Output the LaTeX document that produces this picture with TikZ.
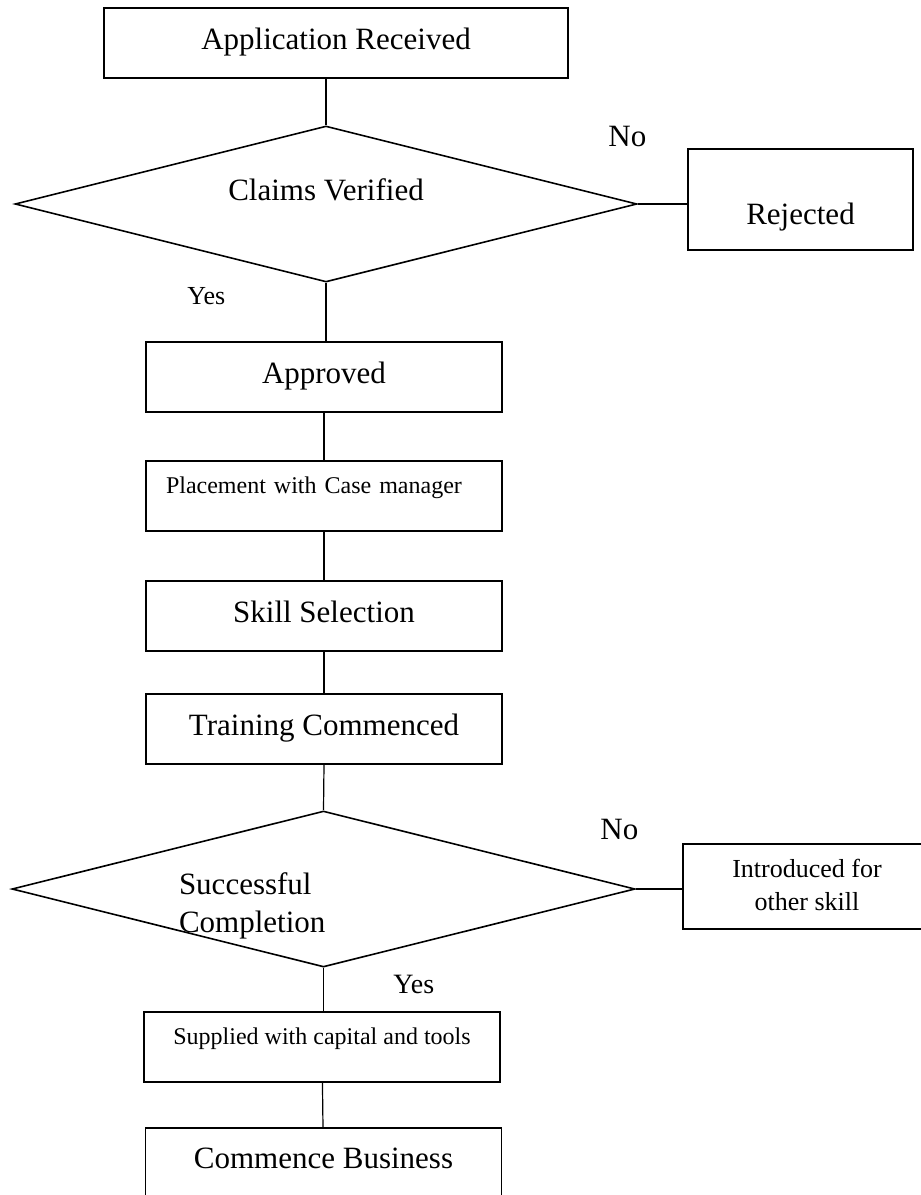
\documentclass[tikz,border=0pt]{standalone}
\usepackage{fontspec}
\setmainfont{Liberation Serif}
\usetikzlibrary{shapes.geometric}

\newcommand{\fbig}{\fontsize{15.5}{19}\selectfont}
\newcommand{\fmid}{\fontsize{13}{16.5}\selectfont}
\newcommand{\fyes}{\fontsize{14}{17}\selectfont}
\newcommand{\fsm}{\fontsize{12}{14.5}\selectfont}

\begin{document}
\begin{tikzpicture}[x=0.5pt, y=-0.5pt,
    box/.style={draw, line width=0.8pt, rectangle, inner sep=0pt,
      minimum width=178pt, minimum height=35pt, font=\fbig,
      text height=10.6pt, text depth=4.6pt},
    smallbox/.style={box, font=\fsm, text height=8.2pt, text depth=11.2pt},
    decision/.style={draw, line width=0.8pt, diamond, shape aspect=4,
      inner sep=0pt, minimum width=311pt, minimum height=78pt, font=\fbig},
    link/.style={line width=0.6pt},
    sidelink/.style={line width=1pt},
    answer/.style={anchor=base west, inner sep=0pt}]
  \useasboundingbox (0,0) rectangle (921,1195);

  % --- first check ---
  \node[box, minimum width=232pt] (app) at (336,43) {Application Received};
  \node[decision, text height=10.6pt, text depth=14.1pt] (claims) at (326,204) {Claims Verified};
  \node[box, minimum width=112.5pt, minimum height=50.5pt,
    text height=27pt, text depth=2.5pt] (rej) at (800.5,199.5) {Rejected};
  \node[answer, font=\fbig] (no1) at (608,146) {No};
  \node[answer, font=\fmid] (yes1) at (187,304) {Yes};

  % --- main chain ---
  \node[box] (appr) at (324,377) {Approved};
  \node[smallbox, text width=158pt, align=left] (place) at (324,496) {Placement with Case manager};
  \node[box] (skill) at (324,616) {Skill Selection};
  \node[box] (train) at (324,729) {Training Commenced};

  % --- second check ---
  \node[decision, minimum width=311.5pt, text width=144.5pt, align=left,
    text height=10.6pt, text depth=5.6pt] (done) at (323.5,889) {Successful\\Completion};
  \node[box, font=\fmid, align=center, minimum width=124pt, minimum height=42.5pt,
    text height=25.4pt, text depth=1.9pt] (intro) at (807,886.5) {Introduced for\\other skill};
  \node[answer, font=\fbig] (no2) at (600,839) {No};
  \node[answer, font=\fyes] (yes2) at (393,993) {Yes};

  \node[smallbox] (supp) at (322,1047) {Supplied with capital and tools};
  \node[box, minimum height=40pt, text depth=10.6pt] (comm) at (323.5,1168) {Commence Business};

  % connectors
  \draw[link] (claims.north |- app.south) -- (claims.north);
  \draw[sidelink] (claims.east) -- (claims.east -| rej.west);
  \draw[link] (claims.south) -- (claims.south |- appr.north);
  \draw[link] (appr) -- (place);
  \draw[link] (place) -- (skill);
  \draw[link] (skill) -- (train);
  \draw[link] (train.south) -- (done.north);
  \draw[sidelink] (done.east) -- (done.east -| intro.west);
  \draw[link] (done.south) -- (done.south |- supp.north);
  \draw[link] (supp) -- (comm);
\end{tikzpicture}
\end{document}
